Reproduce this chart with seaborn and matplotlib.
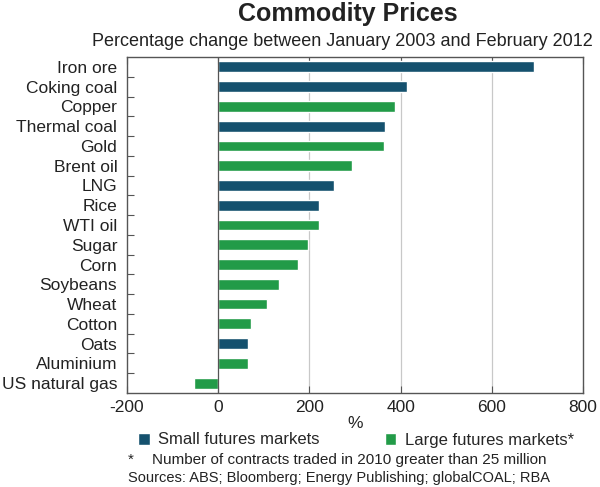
import matplotlib
matplotlib.use("Agg")
import matplotlib.pyplot as plt
import seaborn as sns
import pandas as pd
from matplotlib.patches import Patch
from matplotlib.ticker import FixedLocator, NullFormatter

commodities = ["Iron ore", "Coking coal", "Copper", "Thermal coal", "Gold", "Brent oil",
               "LNG", "Rice", "WTI oil", "Sugar", "Corn", "Soybeans", "Wheat", "Cotton",
               "Oats", "Aluminium", "US natural gas"]
changes = [693, 413, 388, 365, 364, 294, 254, 221, 220, 198, 176, 134, 108, 73, 66, 65, -52]
market = ["Small", "Small", "Large", "Small", "Large", "Large", "Small", "Small", "Large",
          "Large", "Large", "Large", "Large", "Large", "Small", "Large", "Large"]
series_labels = {"Small": "Small futures markets", "Large": "Large futures markets*"}
x_ticks = [-200, 0, 200, 400, 600, 800]

BLUE = "#15516e"
GREEN = "#229b48"

sns.set_theme(style="white")
plt.rcParams["font.family"] = ["Liberation Sans", "DejaVu Sans"]

df = pd.DataFrame({"commodity": commodities, "change": changes, "market": market})

fig = plt.figure(figsize=(6.0, 4.87), dpi=100)
ax = fig.add_axes([127/600, 1-393/487, (583-127)/600, (393-57)/487])

sns.barplot(data=df, y="commodity", x="change", hue="market", order=commodities,
            hue_order=["Small", "Large"], palette={"Small": BLUE, "Large": GREEN},
            dodge=False, width=0.55, orient="h", ax=ax, legend=False, saturation=1)

ax.set_xlim(-200, 800)
ax.set_ylim(len(commodities) - 0.5, -0.5)
ax.set_xticks(x_ticks)
ax.set_xticklabels([str(v) for v in x_ticks], fontsize=12.5, color="#222222")
ax.set_ylabel("")
ax.set_xlabel("%", fontsize=12.5, color="#222222", labelpad=1)
ax.set_yticks(range(len(commodities)))
ax.set_yticklabels(commodities, fontsize=12.5, color="#222222")
ax.tick_params(axis="y", which="major", length=0, pad=7)
ax.yaxis.set_minor_locator(FixedLocator([i + 0.5 for i in range(len(commodities) - 1)]))
ax.yaxis.set_minor_formatter(NullFormatter())
ax.tick_params(axis="y", which="minor", direction="in", length=5, width=0.8, color="#555555", left=True)
ax.tick_params(axis="x", which="major", direction="in", length=5, width=0.8, color="#555555",
               bottom=True, top=True, pad=5)

for v in [200, 400, 600]:
    ax.axvline(v, color="#c8c8c8", lw=0.9, zorder=0)
ax.axvline(0, color="#555555", lw=0.9, zorder=3)
for s in ax.spines.values():
    s.set_color("#555555")
    s.set_linewidth(1.0)

fig.text(348/600, 1-14/487, "Commodity Prices", ha="center", va="center",
         fontsize=18, fontweight="bold", color="#222222")
fig.text(342/600, 1-41/487, "Percentage change between January 2003 and February 2012",
         ha="center", va="center", fontsize=13, color="#222222")

handles = [Patch(facecolor=BLUE, label=series_labels["Small"]),
           Patch(facecolor=GREEN, label=series_labels["Large"])]
fig.legend(handles=handles, loc="center", bbox_to_anchor=(356/600, 1-440/487), ncol=2,
           frameon=False, fontsize=12, handlelength=0.7, handleheight=0.7,
           handletextpad=0.5, columnspacing=3.9, borderaxespad=0)

fig.text(128/600, 1-460/487, "*", ha="left", va="center", fontsize=11, color="#222222")
fig.text(152/600, 1-460/487, "Number of contracts traded in 2010 greater than 25 million",
         ha="left", va="center", fontsize=11, color="#222222")
fig.text(128/600, 1-478/487, "Sources: ABS; Bloomberg; Energy Publishing; globalCOAL; RBA",
         ha="left", va="center", fontsize=10.5, color="#222222")

fig.savefig("out.png", dpi=100)
